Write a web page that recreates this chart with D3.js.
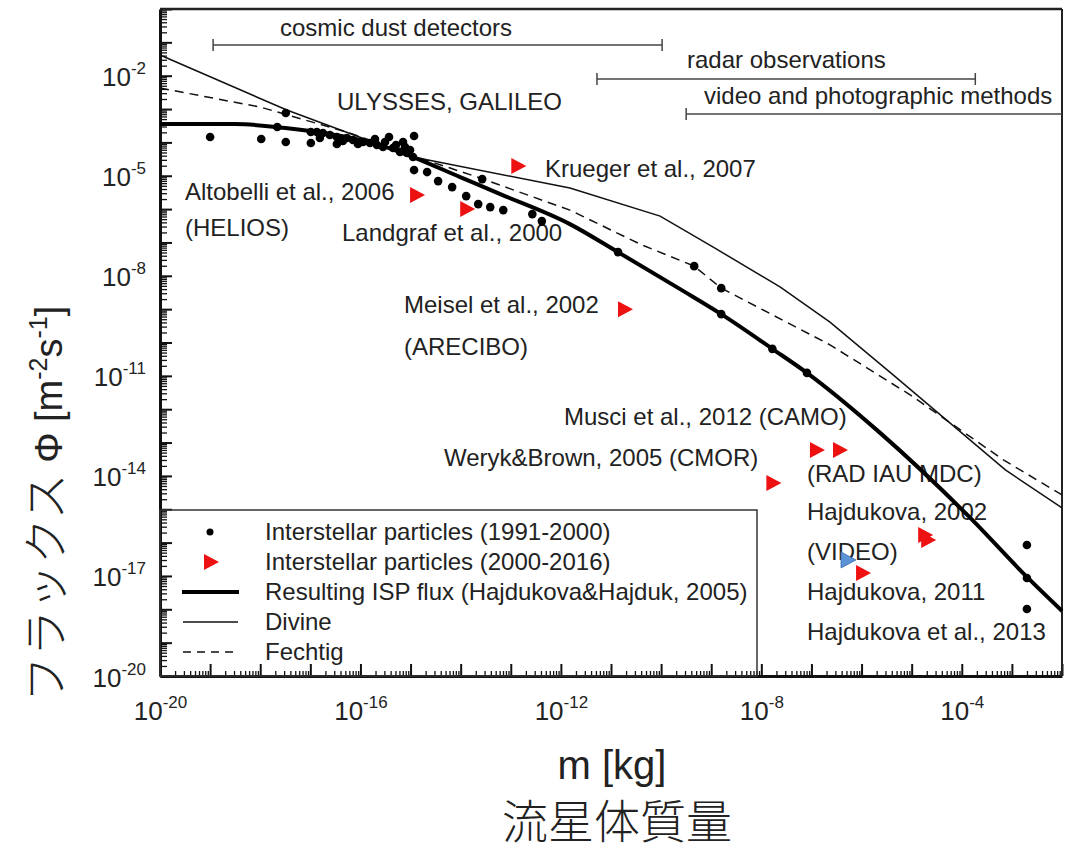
<!DOCTYPE html>
<html>
<head>
<meta charset="utf-8">
<script src="https://cdn.jsdelivr.net/npm/d3@7"></script>
<style>
  body { margin: 0; background: #fff; }
  text { font-family: "Liberation Sans", Arial, sans-serif; fill: #222; }
  .cjk { font-family: "Noto Sans CJK JP", sans-serif; font-weight: 300; }
</style>
</head>
<body>
<div id="chart"></div>
<script>
// all values are log10 (mass in kg, flux in m^-2 s^-1)

// Interstellar particles (1991-2000)
var dots1991 = [
  [-19.0, -3.84], [-17.98, -3.90], [-17.66, -3.54], [-17.49, -3.12], [-17.49, -3.99],
  [-16.99, -3.69], [-16.99, -4.02], [-16.87, -3.69], [-16.81, -3.87], [-16.75, -3.72],
  [-16.61, -3.78], [-16.47, -3.84], [-16.47, -4.05], [-16.35, -3.96], [-16.27, -3.87],
  [-16.15, -3.93], [-16.05, -4.05], [-15.95, -3.99], [-15.81, -4.02], [-15.71, -3.90],
  [-15.67, -4.08], [-15.55, -4.14], [-15.51, -3.99], [-15.43, -3.84], [-15.35, -4.17],
  [-15.29, -4.08], [-15.21, -4.29], [-15.15, -3.99], [-15.11, -4.14], [-15.07, -4.32],
  [-15.01, -4.23], [-14.95, -4.44], [-14.93, -3.81], [-14.93, -4.83], [-14.67, -4.89],
  [-14.45, -5.16], [-14.17, -5.34], [-13.89, -5.61], [-13.65, -5.85], [-13.57, -5.10],
  [-13.41, -5.94], [-13.15, -6.03], [-12.57, -6.15], [-12.38, -6.36], [-10.86, -7.29],
  [-9.34, -7.71], [-8.80, -8.37], [-8.80, -9.15], [-7.78, -10.19], [-7.09, -10.91],
  [-2.70, -16.07], [-2.70, -17.06], [-2.70, -17.99]
];

// Interstellar particles (2000-2016)
var tri2000 = [
  [-14.87, -5.58], [-13.87, -6.00], [-12.85, -4.71], [-10.72, -9.00], [-7.76, -14.21],
  [-6.89, -13.22], [-6.43, -13.22], [-4.73, -15.77], [-4.67, -15.92], [-5.97, -16.91]
];
var triBlue = [[-6.27, -16.52]];

// Resulting ISP flux (Hajdukova&Hajduk, 2005)
var ispFlux = [
  [-20, -3.45], [-18.5, -3.45], [-17.5, -3.57], [-16.61, -3.75], [-15.61, -4.08],
  [-14.95, -4.44], [-14.01, -5.04], [-13.21, -5.55], [-11.82, -6.45], [-10.86, -7.29],
  [-9.62, -8.40], [-8.80, -9.15], [-7.78, -10.19], [-7.09, -10.91], [-5.63, -12.71],
  [-3.83, -15.26], [-2.70, -17.03], [-2.0, -18.05]
];

// Divine model
var divineFlux = [
  [-20, -1.38], [-17.47, -3.03], [-14.95, -4.44], [-11.82, -5.37], [-10.02, -6.21],
  [-8.96, -7.14], [-7.62, -8.34], [-6.63, -9.39], [-5.37, -10.97], [-3.13, -13.82],
  [-2.0, -14.96]
];

// Fechtig model
var fechtigFlux = [
  [-20, -2.37], [-18.0, -2.94], [-16.27, -3.69], [-14.81, -4.47], [-13.61, -5.07],
  [-11.82, -6.03], [-10.42, -7.05], [-9.34, -7.71], [-8.80, -8.37], [-6.63, -10.07],
  [-5.03, -11.57], [-3.17, -13.52], [-2.0, -14.57]
];

// mass ranges of the observing methods
var methodNames = ["cosmic dust detectors", "radar observations", "video and photographic methods"];
var methodRanges = [[-18.94, -9.98], [-11.28, -3.73], [-9.50, -2.0]];

var xTickLabels = [-20, -16, -12, -8, -4];
var yTickLabels = [-20, -17, -14, -11, -8, -5, -2];

var svg = d3.select("#chart").append("svg")
  .attr("width", 1066)
  .attr("height", 850);

var pLeft = 160, pRight = 1062, pTop = 9, pBottom = 676;

var x = d3.scaleLog().domain([1e-20, 1e-2]).range([pLeft, pRight]);
var y = d3.scaleLog().domain([1e-20, 1e0]).range([pBottom, pTop]);
var px = function(d) { return x(Math.pow(10, d[0])); };
var py = function(d) { return y(Math.pow(10, d[1])); };

// ticks
var xMajor = d3.range(-20, -1).map(function(e) { return Math.pow(10, e); });
var yMajor = d3.range(-20, 1).map(function(e) { return Math.pow(10, e); });
var minorOf = function(lo, hi) {
  var out = [];
  for (var e = lo; e < hi; e++) for (var k = 2; k <= 9; k++) out.push(k * Math.pow(10, e));
  return out;
};

svg.append("g")
  .attr("transform", "translate(0," + pBottom + ")")
  .call(d3.axisBottom(x).tickValues(minorOf(-20, -2)).tickSize(-5).tickSizeOuter(0).tickFormat(""))
  .call(function(g) { g.select(".domain").remove(); g.selectAll("line").attr("stroke", "#111").attr("stroke-width", 1.3); });

svg.append("g")
  .attr("transform", "translate(" + pLeft + ",0)")
  .call(d3.axisLeft(y).tickValues(minorOf(-20, 0)).tickSize(-7).tickSizeOuter(0).tickFormat(""))
  .call(function(g) { g.select(".domain").remove(); g.selectAll("line").attr("stroke", "#111").attr("stroke-width", 1.3); });

var xAxis = svg.append("g")
  .attr("transform", "translate(0," + pBottom + ")")
  .call(d3.axisBottom(x).tickValues(xMajor).tickSize(-12).tickSizeOuter(0).tickFormat(""));
xAxis.select(".domain").attr("stroke", "#111").attr("stroke-width", 3);
xAxis.selectAll(".tick line").attr("stroke", "#111").attr("stroke-width", 2);
xAxis.selectAll(".tick").each(function(d) {
  var e = Math.round(Math.log10(d));
  if (xTickLabels.indexOf(e) < 0) return;
  var t = d3.select(this).append("text")
    .attr("y", 44).attr("text-anchor", "middle").attr("fill", "#222")
    .style("font-size", "26px");
  t.append("tspan").text("10");
  t.append("tspan").attr("dy", -12).style("font-size", "17px").text(e);
});

var yAxis = svg.append("g")
  .attr("transform", "translate(" + pLeft + ",0)")
  .call(d3.axisLeft(y).tickValues(yMajor).tickSize(-12).tickSizeOuter(0).tickFormat(""));
yAxis.select(".domain").attr("stroke", "#111").attr("stroke-width", 3);
yAxis.selectAll(".tick line").attr("stroke", "#111").attr("stroke-width", 2);
yAxis.selectAll(".tick").each(function(d) {
  var e = Math.round(Math.log10(d));
  if (yTickLabels.indexOf(e) < 0) return;
  var t = d3.select(this).append("text")
    .attr("x", -14).attr("y", 10).attr("text-anchor", "end").attr("fill", "#222")
    .style("font-size", "26px");
  t.append("tspan").text("10");
  t.append("tspan").attr("dy", -12).style("font-size", "17px").text(e);
});

// top and right frame
svg.append("line").attr("x1", pLeft).attr("x2", pRight).attr("y1", pTop).attr("y2", pTop)
  .attr("stroke", "#222").attr("stroke-width", 2.5);
svg.append("line").attr("x1", pRight).attr("x2", pRight).attr("y1", pTop).attr("y2", pBottom)
  .attr("stroke", "#222").attr("stroke-width", 2);

// method ranges
var methodY = [45, 79, 114];
var methodTextPos = [[280, 36], [687, 68], [704, 104]];
methodRanges.forEach(function(r, i) {
  var x1 = x(Math.pow(10, r[0])), x2 = x(Math.pow(10, r[1])), yy = methodY[i];
  svg.append("line").attr("x1", x1).attr("x2", x2).attr("y1", yy).attr("y2", yy)
    .attr("stroke", "#444").attr("stroke-width", 1.5);
  [x1, x2].forEach(function(xx) {
    if (xx >= pRight - 1) return;
    svg.append("line").attr("x1", xx).attr("x2", xx).attr("y1", yy - 6).attr("y2", yy + 6)
      .attr("stroke", "#444").attr("stroke-width", 1.5);
  });
  svg.append("text").attr("x", methodTextPos[i][0]).attr("y", methodTextPos[i][1])
    .style("font-size", "24px").text(methodNames[i]);
});

// annotations
var notes = [
  ["ULYSSES, GALILEO", 337, 110],
  ["Krueger et al., 2007", 545, 177],
  ["Altobelli et al., 2006", 185, 200],
  ["(HELIOS)", 185, 236],
  ["Landgraf et al., 2000", 342, 241],
  ["Meisel et al., 2002", 404, 313],
  ["(ARECIBO)", 404, 355],
  ["Musci et al., 2012 (CAMO)", 564, 425],
  ["Weryk&Brown, 2005 (CMOR)", 444, 466],
  ["(RAD IAU MDC)", 807, 482],
  ["Hajdukova, 2002", 807, 520],
  ["(VIDEO)", 807, 560],
  ["Hajdukova, 2011", 807, 600],
  ["Hajdukova et al., 2013", 807, 640]
];
svg.selectAll(".note").data(notes).enter().append("text")
  .attr("class", "note")
  .attr("x", function(d) { return d[1]; })
  .attr("y", function(d) { return d[2]; })
  .style("font-size", "24px")
  .text(function(d) { return d[0]; });

// legend box
svg.append("rect").attr("x", pLeft).attr("y", 510).attr("width", 757 - pLeft).attr("height", pBottom - 510)
  .attr("fill", "none").attr("stroke", "#333").attr("stroke-width", 1.5);

// curves
var line = d3.line().x(px).y(py);
svg.append("path").datum(divineFlux).attr("d", line)
  .attr("fill", "none").attr("stroke", "#111").attr("stroke-width", 1.5);
svg.append("path").datum(fechtigFlux).attr("d", line)
  .attr("fill", "none").attr("stroke", "#111").attr("stroke-width", 1.5).attr("stroke-dasharray", "9,6");
svg.append("path").datum(ispFlux).attr("d", line.curve(d3.curveMonotoneX))
  .attr("fill", "none").attr("stroke", "#000").attr("stroke-width", 4);

// points
svg.selectAll(".dot").data(dots1991).enter().append("circle")
  .attr("class", "dot")
  .attr("cx", px).attr("cy", py).attr("r", 4.3).attr("fill", "#000");

var triPath = "M-7,-8L8,0L-7,8Z";
svg.selectAll(".tblue").data(triBlue).enter().append("path")
  .attr("class", "tblue").attr("d", triPath)
  .attr("transform", function(d) { return "translate(" + px(d) + "," + py(d) + ")"; })
  .attr("fill", "#5b93d6").attr("stroke", "#3a6fb0").attr("stroke-width", 0.8);
svg.selectAll(".tred").data(tri2000).enter().append("path")
  .attr("class", "tred").attr("d", triPath)
  .attr("transform", function(d) { return "translate(" + px(d) + "," + py(d) + ")"; })
  .attr("fill", "#ee1111");

// legend entries
var legY = [532, 562, 592, 622, 652];
var legText = ["Interstellar particles (1991-2000)", "Interstellar particles (2000-2016)",
  "Resulting ISP flux (Hajdukova&Hajduk, 2005)", "Divine", "Fechtig"];
legText.forEach(function(t, i) {
  svg.append("text").attr("x", 265).attr("y", legY[i] + 8).style("font-size", "24px").text(t);
});
svg.append("circle").attr("cx", 210).attr("cy", legY[0]).attr("r", 3.5).attr("fill", "#000");
svg.append("path").attr("d", triPath).attr("transform", "translate(211," + legY[1] + ")").attr("fill", "#ee1111");
svg.append("line").attr("x1", 182).attr("x2", 239).attr("y1", legY[2]).attr("y2", legY[2])
  .attr("stroke", "#000").attr("stroke-width", 4);
svg.append("line").attr("x1", 183).attr("x2", 238).attr("y1", legY[3]).attr("y2", legY[3])
  .attr("stroke", "#111").attr("stroke-width", 1.5);
svg.append("line").attr("x1", 183).attr("x2", 238).attr("y1", legY[4]).attr("y2", legY[4])
  .attr("stroke", "#111").attr("stroke-width", 1.5).attr("stroke-dasharray", "8,6");

// axis titles
svg.append("text").attr("x", 612).attr("y", 779).attr("text-anchor", "middle")
  .style("font-size", "40px").text("m [kg]");
svg.append("text").attr("class", "cjk").attr("x", 617).attr("y", 838).attr("text-anchor", "middle")
  .style("font-size", "46px").text("流星体質量");

var yt = svg.append("text").attr("transform", "translate(62,702) rotate(-90)");
yt.append("tspan").attr("class", "cjk").style("font-size", "46px").text("フラックス");
yt.append("tspan").style("font-size", "38px").text(" Φ [m");
yt.append("tspan").attr("dy", -15).style("font-size", "25px").text("-2");
yt.append("tspan").attr("dy", 15).style("font-size", "38px").text("s");
yt.append("tspan").attr("dy", -15).style("font-size", "25px").text("-1");
yt.append("tspan").attr("dy", 15).style("font-size", "38px").text("]");
</script>
</body>
</html>
